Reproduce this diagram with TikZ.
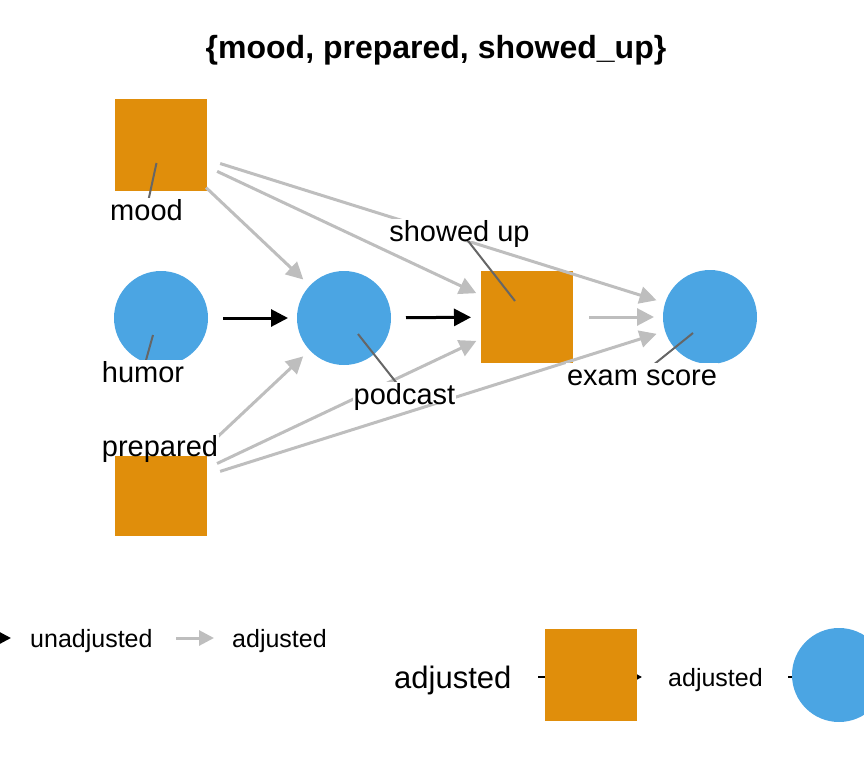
\documentclass[tikz,border=0pt]{standalone}
\usepackage{fontspec}
\setmainfont{Liberation Sans}
\usetikzlibrary{arrows.meta}
\definecolor{adjorange}{HTML}{E08E0B}
\definecolor{unblue}{HTML}{4BA5E3}
\definecolor{edgegray}{HTML}{BEBEBE}
\definecolor{leadgray}{HTML}{666666}
\begin{document}
\begin{tikzpicture}[x=1pt,y=-1pt,
  sq/.style={rectangle, fill=adjorange, minimum size=92pt, inner sep=0pt},
  circ/.style={circle, fill=unblue, minimum size=94pt, inner sep=0pt},
  dagedge/.style={line width=3pt, -{Triangle[length=17pt,width=17pt]}, shorten <=62pt, shorten >=56pt},
  adjedge/.style={dagedge, draw=edgegray},
  unadjedge/.style={dagedge, draw=black},
  lab/.style={fill=white, inner xsep=1pt, inner ysep=0pt, text height=22pt, text depth=0pt, font=\fontsize{29}{29}\selectfont},
  leader/.style={draw=leadgray, line width=2pt},
  legtext/.style={inner sep=0pt, anchor=mid west, font=\fontsize{25}{25}\selectfont}]
\useasboundingbox (0,0) rectangle (864,768);
\clip (0,0) rectangle (864,768);
% title
\node[font=\bfseries\fontsize{32}{32}\selectfont] (title) at (436,50) {\{mood, prepared, showed\_up\}};
% nodes
\node[sq] (mood) at (161,145) {};
\node[circ] (humor) at (161,318) {};
\node[circ] (podcast) at (344,318) {};
\node[sq] (showed) at (527,317) {};
\node[circ] (exam) at (710,317) {};
\node[sq] (prepared) at (161,490) {};
% edges
\draw[unadjedge] (humor.center) -- (podcast.center);
\draw[unadjedge] (podcast.center) -- (showed.center);
\draw[adjedge] (showed.center) -- (exam.center);
\draw[adjedge] (mood.center) -- (podcast.center);
\draw[adjedge] (mood.center) -- (showed.center);
\draw[adjedge] (mood.center) -- (exam.center);
\draw[adjedge] (prepared.center) -- (podcast.center);
\draw[adjedge] (prepared.center) -- (showed.center);
\draw[adjedge] (prepared.center) -- (exam.center);
% label positions
\coordinate (moodlp) at (146.5,209);
\coordinate (humorlp) at (143,371);
\coordinate (podcastlp) at (404.5,393);
\coordinate (showedlp) at (459.5,230);
\coordinate (examlp) at (642,374);
\coordinate (preparedlp) at (160,445);
% leader start points
\coordinate (moodls) at (156.5,163);
\coordinate (humorls) at (153,335);
\coordinate (podcastls) at (358,334);
\coordinate (showedls) at (515,301);
\coordinate (examls) at (693,333);
\draw[leader] (moodls) -- (moodlp);
\draw[leader] (humorls) -- (humorlp);
\draw[leader] (podcastls) -- (podcastlp);
\draw[leader] (showedls) -- (showedlp);
\draw[leader] (examls) -- (examlp);
% labels
\node[lab] (moodlab) at (moodlp) {mood};
\node[lab] (humorlab) at (humorlp) {humor};
\node[lab] (podcastlab) at (podcastlp) {podcast};
\node[lab] (showedlab) at (showedlp) {showed up};
\node[lab] (examlab) at (examlp) {exam score};
\node[lab] (preparedlab) at (preparedlp) {prepared};
% legend: edge types
\coordinate (lk1a) at (-30,638);
\coordinate (lk1b) at (11,638);
\draw[line width=3pt, draw=black, -{Triangle[length=15pt,width=15pt]}] (lk1a) -- (lk1b);
\node[legtext] (unadjtext) at (30,645) {unadjusted};
\coordinate (lk2a) at (176,638);
\coordinate (lk2b) at (214,638);
\draw[line width=3pt, draw=edgegray, -{Triangle[length=15pt,width=15pt]}] (lk2a) -- (lk2b);
\node[legtext] (adjtext) at (232,645) {adjusted};
% legend: adjusted
\node[legtext, font=\fontsize{31}{31}\selectfont] (adjhead) at (394,686) {adjusted};
\coordinate (lk3a) at (538,677);
\coordinate (lk3b) at (642,677);
\draw[line width=2pt, draw=black, -{Triangle[length=6pt,width=6pt]}] (lk3a) -- (lk3b);
\node[sq] (legsq) at (590.5,675) {};
\node[legtext] (adjlab2) at (668,684) {adjusted};
\coordinate (lk4a) at (788,677);
\coordinate (lk4b) at (800,677);
\draw[line width=2pt, draw=black] (lk4a) -- (lk4b);
\node[circ] (legcirc) at (839,675) {};
\end{tikzpicture}
\end{document}
